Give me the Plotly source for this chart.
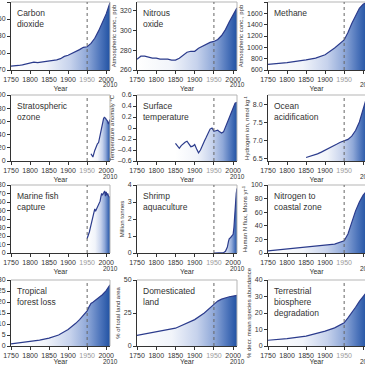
import plotly.graph_objects as go

# ---------------- data ----------------
co2_years = [1750,1760,1770,1780,1790,1800,1810,1820,1830,1840,1850,1860,1870,1880,1890,1900,1910,1920,1930,1940,1950,1960,1970,1980,1990,2000,2010]
co2 = [277,277,278,279,281,283,284,283,284,284,286,286,288,290,294,296,299,303,306,310,311,317,326,339,354,369,389]

n2o_years = [1750,1760,1770,1780,1790,1800,1810,1820,1830,1840,1850,1860,1870,1880,1890,1900,1910,1920,1930,1940,1950,1960,1970,1980,1990,2000,2010]
n2o = [271,274,274,273,272,272,271,271,271,270,270,272,275,278,279,279,282,284,286,288,289,291,295,301,309,316,323]

ch4_years = [1750,1800,1850,1875,1900,1925,1950,1960,1970,1980,1990,2000,2010]
ch4 = [700,730,780,810,870,990,1130,1260,1420,1560,1690,1760,1800]

ozone_years = [1960,1965,1970,1975,1977,1980,1984,1988,1990,1993,1995,1998,2000,2003,2006,2008,2010]
ozone = [11,6,16,24,26,28,41,49,58,64,66,65,63,61,56,60,63]

temp_years = [1850,1855,1860,1865,1870,1875,1880,1885,1890,1895,1900,1905,1910,1915,1920,1925,1930,1935,1940,1945,1950,1955,1960,1965,1970,1975,1980,1985,1990,1995,2000,2005,2010]
temp = [-0.28,-0.33,-0.37,-0.32,-0.28,-0.26,-0.24,-0.30,-0.34,-0.33,-0.30,-0.38,-0.45,-0.40,-0.30,-0.24,-0.17,-0.10,-0.02,0.0,-0.06,-0.05,-0.04,-0.07,-0.09,-0.07,0.02,0.10,0.20,0.28,0.38,0.45,0.47]

ocean_years = [1850,1860,1870,1880,1890,1900,1910,1920,1930,1940,1950,1960,1970,1980,1990,2000,2010]
ocean = [6.52,6.55,6.58,6.62,6.67,6.72,6.77,6.83,6.89,6.95,6.98,7.03,7.12,7.28,7.52,7.85,8.25]

fish_years = [1950,1952,1954,1956,1958,1960,1962,1964,1966,1968,1970,1972,1974,1976,1978,1980,1982,1984,1986,1988,1990,1992,1994,1996,1998,2000,2002,2004,2006,2008,2010]
fish = [17,19,22,25,29,33,38,43,47,50,52,49,51,53,54,55,57,61,66,70,68,70,72,73,67,72,68,70,67,66,65]

shrimp_years = [1950,1960,1970,1975,1980,1985,1988,1990,1993,1995,1998,2000,2002,2004,2006,2008,2010]
shrimp = [0,0,0.01,0.02,0.1,0.35,0.7,0.85,0.9,0.95,1.0,1.1,1.5,2.4,3.1,3.5,3.8]

nitrogen_years = [1750,1800,1850,1875,1900,1925,1950,1960,1970,1980,1990,2000,2010]
nitrogen = [3,6,9,10,11,13,18,28,45,62,75,85,92]

forest_years = [1750,1775,1800,1825,1850,1875,1900,1910,1920,1930,1940,1950,1955,1960,1965,1970,1980,1990,2000,2010]
forest = [1.0,1.5,2.0,2.7,3.6,5.0,7.5,8.8,10.3,12.0,14.0,16.0,17.8,19.3,19.9,20.5,21.7,23.3,25.2,27.8]

domland_years = [1750,1800,1850,1900,1925,1950,1960,1970,1980,1990,2000,2010]
domland = [8,10.5,13.5,20,25,31.5,34,35.5,36.5,37.3,37.8,38.3]

terr_years = [1750,1800,1850,1900,1925,1950,1960,1970,1980,1990,2000,2010]
terr = [3.5,4.5,6,9,11,14,17,20,23.5,27,30,33]

x_ticks = [1750, 1800, 1850, 1900, 1950, 2000]
x_ticktext = ["1750", "1800", "1850", "1900", '<span style="color:#9a9a9a">1950</span>', "2000"]

titles = ["Carbon<br>dioxide", "Nitrous<br>oxide", "Methane",
          "Stratospheric<br>ozone", "Surface<br>temperature", "Ocean<br>acidification",
          "Marine fish<br>capture", "Shrimp<br>aquaculture", "Nitrogen to<br>coastal zone",
          "Tropical<br>forest loss", "Domesticated<br>land", "Terrestrial<br>biosphere<br>degradation"]

# left-column axis titles lie outside the cropped view in the reference
y_titles = ["", "Atmospheric conc., ppb", "Atmospheric conc., ppb",
            "", "Temperature anomaly °C", "Hydrogen ion, nmol kg<sup>-1</sup>",
            "", "Million tonnes", "Human N flux, Mtons yr<sup>-1</sup>",
            "", "% of total land area", "% decr. mean species abundance"]

y_ranges = [[270, 390], [260, 329], [600, 1800],
            [0, 100], [-0.6, 0.6], [6.42, 8.28],
            [0, 80], [0, 4], [0, 100],
            [0, 30], [0, 50], [0, 40]]

y_tickvals = [[270, 300, 330, 360, 390], [260, 280, 300, 320], [600, 800, 1000, 1200, 1400, 1600, 1800],
              [0, 20, 40, 60, 80, 100], [-0.6, -0.4, -0.2, 0, 0.2, 0.4, 0.6], [6.5, 7.0, 7.5, 8.0],
              [0, 10, 20, 30, 40, 50, 60, 70, 80], [0, 1, 2, 3, 4], [0, 20, 40, 60, 80, 100],
              [0, 5, 10, 15, 20, 25, 30], [0, 25, 50], [0, 10, 20, 30, 40]]

temp_ticktext = ["–0.6", "–0.4", "–0.2", "0", "0.2", "0.4", "0.6"]
ocean_ticktext = ["6.5", "7.0", "7.5", "8.0"]

series = [(co2_years, co2), (n2o_years, n2o), (ch4_years, ch4),
          (ozone_years, ozone), (temp_years, temp), (ocean_years, ocean),
          (fish_years, fish), (shrimp_years, shrimp), (nitrogen_years, nitrogen),
          (forest_years, forest), (domland_years, domland), (terr_years, terr)]

# ---------------- layout geometry (pixels) ----------------
W = H = 365
cols_px = [(11, 110), (137, 237), (268, 367)]
rows_px = [(2, 70), (95, 161), (185, 253), (280, 346)]

FONT = "Liberation Sans, Arial, Helvetica, sans-serif"
TXT = "#333333"
LINE = "#2b3b8c"
SCALE = [[0, "#ffffff"], [0.35, "#f1f4fa"], [0.6, "#c6d2ec"], [0.77, "#8fa8d8"],
         [0.9, "#4f76bc"], [1, "#2152a3"]]

fig = go.Figure()
shapes = []
annotations = []
layout = {}

for i, (xs_data, ys_data) in enumerate(series):
    r, c = divmod(i, 3)
    k = i + 1
    xa = "x" if k == 1 else f"x{k}"
    ya = "y" if k == 1 else f"y{k}"
    x0, x1 = cols_px[c]
    top, bot = rows_px[r]
    xd1 = min(x1, W)
    xr_end = 1750 + 260 * (xd1 - x0) / (x1 - x0)
    ymin = y_ranges[i][0]

    fig.add_trace(go.Scatter(x=xs_data, y=[ymin] * len(xs_data), mode="lines",
                             line=dict(width=0, color="rgba(0,0,0,0)"), hoverinfo="skip",
                             showlegend=False, xaxis=xa, yaxis=ya))
    fig.add_trace(go.Scatter(x=xs_data, y=ys_data, mode="lines",
                             line=dict(color=LINE, width=1.2), fill="tonexty",
                             fillgradient=dict(type="horizontal", colorscale=SCALE),
                             showlegend=False, xaxis=xa, yaxis=ya))

    if i == 4:
        ytext = temp_ticktext
    elif i == 5:
        ytext = ocean_ticktext
    else:
        ytext = [str(v) for v in y_tickvals[i]]

    common = dict(ticks="outside", ticklen=3, tickwidth=1, tickcolor=TXT, showline=True,
                  linecolor=TXT, linewidth=1, showgrid=False, zeroline=False, automargin=False,
                  tickfont=dict(size=7, color=TXT, family=FONT), fixedrange=True)
    layout["xaxis" if k == 1 else f"xaxis{k}"] = dict(
        domain=[x0 / W, xd1 / W], range=[1750, xr_end], anchor=ya,
        tickvals=x_ticks, ticktext=x_ticktext,
        title=dict(text="Year", font=dict(size=7, color=TXT, family=FONT), standoff=3),
        **common)
    yax = dict(domain=[1 - bot / H, 1 - top / H], range=y_ranges[i], anchor=xa,
               tickvals=y_tickvals[i], ticktext=ytext, **common)
    if y_titles[i]:
        yax["title"] = dict(text=y_titles[i], font=dict(size=6, color=TXT, family=FONT), standoff=2)
    layout["yaxis" if k == 1 else f"yaxis{k}"] = yax

    # light frame: top and right edges
    shapes.append(dict(type="line", xref="paper", yref="paper", x0=x0 / W, x1=x1 / W,
                       y0=1 - top / H, y1=1 - top / H, line=dict(color="#b5b5b5", width=1)))
    if x1 <= W:
        shapes.append(dict(type="line", xref="paper", yref="paper", x0=x1 / W, x1=x1 / W,
                           y0=1 - bot / H, y1=1 - top / H, line=dict(color="#b5b5b5", width=1)))
    # 1950 dotted marker
    shapes.append(dict(type="line", xref=xa, yref=f"{ya} domain", x0=1950, x1=1950, y0=0, y1=1,
                       line=dict(color="#666666", width=1, dash="dot")))

    annotations.append(dict(text=titles[i], xref=f"{xa} domain", yref=f"{ya} domain", x=0, y=1,
                            xshift=4, yshift=-4, xanchor="left", yanchor="top", align="left",
                            showarrow=False, font=dict(size=8.5, color=TXT, family=FONT)))
    annotations.append(dict(text="2010", xref="paper", yref=f"{ya} domain", x=x1 / W, y=0,
                            yshift=-15, xanchor="center", yanchor="middle", showarrow=False,
                            font=dict(size=6.5, color=TXT, family=FONT)))

fig.update_layout(width=W, height=H, margin=dict(l=0, r=0, t=0, b=0, autoexpand=False),
                  paper_bgcolor="white", plot_bgcolor="white", showlegend=False,
                  font=dict(family=FONT, color=TXT), shapes=shapes, annotations=annotations,
                  **layout)

fig.write_html("out.html", config={"displayModeBar": False},
               post_script="document.body.style.margin='0';document.body.style.overflow='hidden';")
